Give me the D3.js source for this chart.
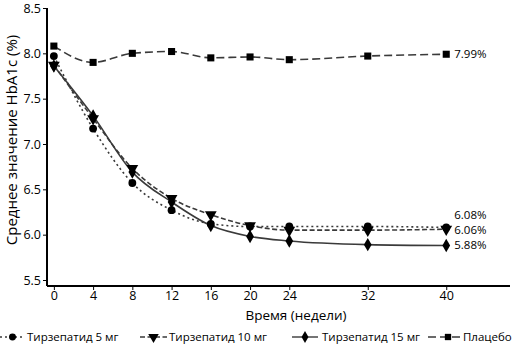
<!DOCTYPE html>
<html>
<head>
<meta charset="utf-8">
<script src="https://cdn.jsdelivr.net/npm/d3@7"></script>
<style>
  body { margin: 0; background: #fff; }
  text { font-family: "Open Sans", sans-serif; fill: #000; }
</style>
</head>
<body>
<div id="chart"></div>
<script>
// weeks and HbA1c values
const weeks = [0, 4, 8, 12, 16, 20, 24, 32, 40];
const tirz5 = [7.97, 7.17, 6.57, 6.27, 6.12, 6.09, 6.09, 6.09, 6.08];
const tirz10 = [7.87, 7.28, 6.73, 6.40, 6.22, 6.10, 6.05, 6.05, 6.06];
const tirz15 = [7.86, 7.31, 6.69, 6.36, 6.10, 5.98, 5.93, 5.89, 5.88];
const placebo = [8.08, 7.90, 8.00, 8.02, 7.95, 7.96, 7.93, 7.97, 7.99];
const yTicks = [5.5, 6.0, 6.5, 7.0, 7.5, 8.0, 8.5];
const seriesNames = ["Тирзепатид 5 мг", "Тирзепатид 10 мг", "Тирзепатид 15 мг", "Плацебо"];
const endLabels = ["6.08%", "6.06%", "5.88%", "7.99%"];

class HbaChart {
  constructor() {
    this.width = 520;
    this.height = 347;
    this.svg = d3.select("#chart").append("svg")
      .attr("width", this.width).attr("height", this.height);

    this.x = d3.scaleLinear().domain([-0.7, 46.5]).range([47, 510]);
    this.y = d3.scaleLinear().domain([5.5, 8.5]).range([280, 8]);
    this.axisY = 286;

    this.styles = [
      {dash: "2,3", marker: d3.symbolCircle, size: 48, width: 1.6},
      {dash: "5,2.5", marker: d3.symbolTriangle, size: 60, width: 1.6, flip: true},
      {dash: null, marker: d3.symbolDiamond, size: 52, width: 1.6},
      {dash: "8,4", marker: d3.symbolSquare, size: 50, width: 1.6}
    ];
  }

  drawAxes() {
    let xAxis = d3.axisBottom(this.x).tickValues(weeks).tickSize(4).tickPadding(1);
    let gx = this.svg.append("g").attr("transform", `translate(0, ${this.axisY})`).call(xAxis);
    gx.select(".domain").attr("d", `M${this.x.range()[0]},0H${this.x.range()[1]}`).attr("stroke-width", 2);
    gx.selectAll("text").style("font-size", "12.5px");

    let yAxis = d3.axisLeft(this.y).tickValues(yTicks).tickFormat(d3.format(".1f")).tickSize(4).tickPadding(2);
    let gy = this.svg.append("g").attr("transform", `translate(${this.x.range()[0]}, 0)`).call(yAxis);
    gy.select(".domain").attr("d", `M0,${this.y(8.5)}V${this.axisY}`).attr("stroke-width", 2);
    gy.selectAll("text").style("font-size", "12.5px");

    this.svg.append("text")
      .attr("x", 296).attr("y", 320)
      .attr("text-anchor", "middle")
      .style("font-size", "13.5px").style("font-weight", 500)
      .text("Время (недели)");

    this.svg.append("text")
      .attr("transform", `translate(17, 140) rotate(-90)`)
      .attr("text-anchor", "middle")
      .style("font-size", "15px")
      .text("Среднее значение HbA1c (%)");
  }

  drawSeries() {
    let allSeries = [tirz5, tirz10, tirz15, placebo];
    let line = d3.line().x((d, i) => this.x(weeks[i])).y(d => this.y(d)).curve(d3.curveMonotoneX);

    allSeries.forEach((vals, k) => {
      let st = this.styles[k];
      this.svg.append("path")
        .attr("d", line(vals))
        .attr("fill", "none")
        .attr("stroke", "#3a3a3a")
        .attr("stroke-width", st.width)
        .attr("stroke-dasharray", st.dash);
    });

    allSeries.forEach((vals, k) => {
      let st = this.styles[k];
      let sym = d3.symbol().type(st.marker).size(st.size);
      this.svg.selectAll(null).data(vals).enter().append("path")
        .attr("d", sym)
        .attr("fill", "#000")
        .attr("transform", (d, i) => `translate(${this.x(weeks[i])}, ${this.y(d)})${st.flip ? " rotate(180)" : ""}`);
    });

    let labelY = [219, 234, 249, this.y(7.99) + 4];
    endLabels.forEach((t, k) => {
      this.svg.append("text")
        .attr("x", this.x(40) + 8).attr("y", labelY[k])
        .style("font-size", "11.5px")
        .text(t);
    });
  }

  drawLegend() {
    let items = [
      {x0: 0, x1: 25, tx: 27},
      {x0: 140, x1: 167, tx: 169},
      {x0: 292, x1: 318, tx: 322},
      {x0: 428, x1: 460, tx: 463}
    ];
    let ly = 337;
    items.forEach((it, k) => {
      let st = this.styles[k];
      let g = this.svg.append("g");
      g.append("line")
        .attr("x1", it.x0).attr("x2", it.x1).attr("y1", ly).attr("y2", ly)
        .attr("stroke", "#3a3a3a").attr("stroke-width", 1.4)
        .attr("stroke-dasharray", st.dash);
      let mx = k === 3 ? it.x1 - 12 : (it.x0 + it.x1) / 2;
      g.append("path")
        .attr("d", d3.symbol().type(st.marker).size(st.size * 0.8)())
        .attr("fill", "#000")
        .attr("transform", `translate(${mx}, ${ly})${st.flip ? " rotate(180)" : ""}`);
      g.append("text")
        .attr("x", it.tx).attr("y", ly + 4)
        .style("font-size", "11.5px")
        .text(seriesNames[k]);
    });
  }
}

let chart = new HbaChart();
chart.drawAxes();
chart.drawSeries();
chart.drawLegend();
</script>
</body>
</html>
